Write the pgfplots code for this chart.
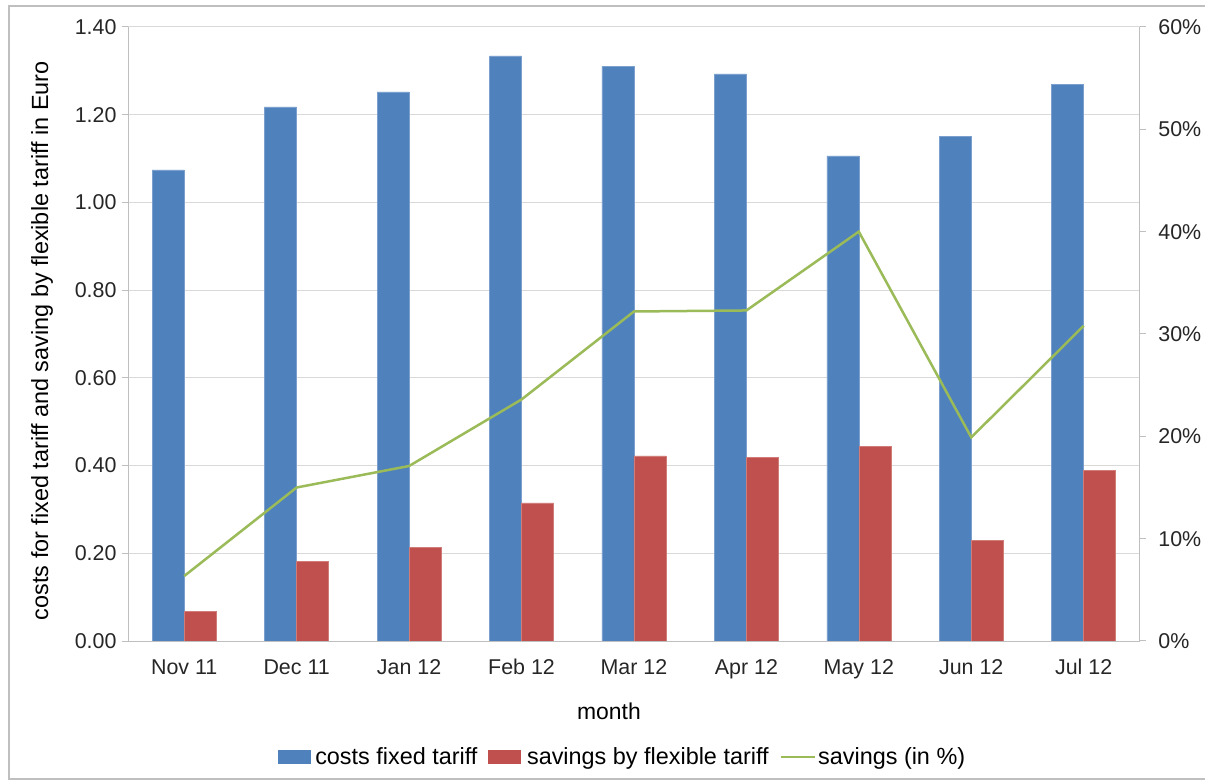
\documentclass[border=0pt]{standalone}
\usepackage{pgfplots}
\pgfplotsset{compat=1.18}
\usepackage{fontspec}
\setmainfont{Liberation Sans}
\definecolor{cblue}{HTML}{4F81BD}
\definecolor{cred}{HTML}{C0504D}
\definecolor{cgreen}{HTML}{9BBB59}
\definecolor{gridgray}{HTML}{D9D9D9}
\definecolor{axisgray}{HTML}{BFBFBF}
\pgfplotstableread{
x cost save pct
0 1.074 0.068 6.35
1 1.218 0.182 15.0
2 1.252 0.214 17.1
3 1.334 0.315 23.6
4 1.311 0.422 32.2
5 1.293 0.418 32.3
6 1.106 0.443 40.0
7 1.150 0.229 19.9
8 1.269 0.389 30.8
}\datatable
\begin{document}
\begin{tikzpicture}
\path[use as bounding box] (0,0) rectangle (1205bp,783bp);
\draw[axisgray, line width=1.5bp] (1215bp,777bp) -- (9bp,777bp) -- (9bp,4bp) -- (1215bp,4bp);
\begin{axis}[
  at={(128bp,142bp)}, anchor=south west,
  scale only axis, width=1012bp, height=614bp,
  xmin=-0.5, xmax=8.5, ymin=0, ymax=1.4,
  ybar=0pt, bar width=32bp,
  axis x line*=bottom, axis y line*=left,
  axis line style={axisgray, line width=1bp},
  xtick={0,1,2,3,4,5,6,7,8},
  xticklabels={Nov 11,Dec 11,Jan 12,Feb 12,Mar 12,Apr 12,May 12,Jun 12,Jul 12},
  x tick style={draw=none},
  extra x ticks={-0.5,0.5,1.5,2.5,3.5,4.5,5.5,6.5,7.5,8.5},
  extra x tick labels={},
  extra x tick style={tick style={axisgray, line width=1bp}, major tick length=8bp, grid=none},
  ytick={0,0.2,0.4,0.6,0.8,1.0,1.2,1.4},
  tick align=outside, major tick length=6bp,
  y tick style={axisgray, line width=1bp},
  ymajorgrids, grid style={gridgray, line width=1bp},
  /pgf/number format/assume math mode=true,
  yticklabel style={xshift=-2bp, /pgf/number format/fixed, /pgf/number format/fixed zerofill, /pgf/number format/precision=2},
  ticklabel style={font=\fontsize{21.5}{24}\selectfont, text=black!85},
  xticklabel style={yshift=-17bp, text height=0.73em, text depth=0.22em},
  xlabel={month},
  xlabel style={at={(axis description cs:0.4753,-0.114)}, anchor=center, font=\fontsize{23}{26}\selectfont},
  ylabel={costs for fixed tariff and saving by flexible tariff in Euro},
  ylabel style={at={(axis description cs:-0.085,0.489)}, anchor=center, font=\fontsize{23.5}{26}\selectfont},
  legend columns=3,
  legend style={at={(axis description cs:0.4886,-0.189)}, anchor=center, draw=none, fill=none,
    font=\fontsize{23.5}{26}\selectfont, /tikz/every even column/.append style={column sep=9bp}},
  legend cell align=left,
]
\addplot[fill=cblue, draw=cblue!75!white, line width=0.6bp,
  legend image code/.code={\fill[cblue] (0bp,-6bp) rectangle (32bp,6.5bp); \path (35bp,0bp);}]
  table[x=x, y=cost] {\datatable};
\addlegendentry{costs fixed tariff}
\addplot[fill=cred, draw=cred!75!white, line width=0.6bp,
  legend image code/.code={\fill[cred] (0bp,-6bp) rectangle (32bp,6.5bp); \path (36bp,0bp);}]
  table[x=x, y=save] {\datatable};
\addlegendentry{savings by flexible tariff}
\addlegendimage{legend image code/.code={\draw[cgreen, line width=2.5bp] (0bp,0bp) -- (34bp,0bp);}}
\addlegendentry{savings (in \%)}
\end{axis}
\begin{axis}[
  at={(128bp,142bp)}, anchor=south west,
  scale only axis, width=1012bp, height=614bp,
  xmin=-0.5, xmax=8.5, ymin=0, ymax=60,
  axis x line=none, axis y line*=right,
  axis line style={axisgray, line width=1bp},
  ytick={0,10,20,30,40,50,60},
  yticklabels={0\%,10\%,20\%,30\%,40\%,50\%,60\%},
  tick align=outside, major tick length=6bp,
  tick style={axisgray, line width=1bp},
  ticklabel style={font=\fontsize{21.5}{24}\selectfont, text=black!85},
  yticklabel style={xshift=9bp},
]
\addplot[cgreen, line width=2.5bp, no markers] table[x=x, y=pct] {\datatable};
\end{axis}
\end{tikzpicture}
\end{document}
